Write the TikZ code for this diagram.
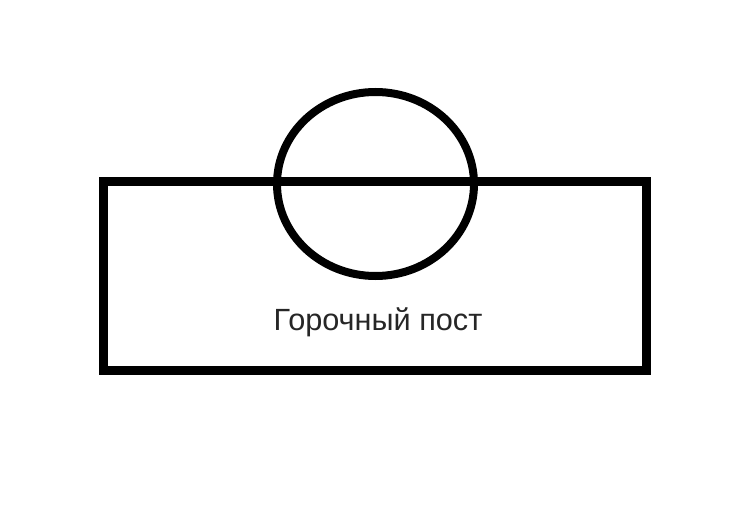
\documentclass[tikz,border=0pt]{standalone}
\usepackage{fontspec}
\setmainfont{Liberation Sans}
\begin{document}
\begin{tikzpicture}[x=0.75pt,y=-0.75pt,
  shape line/.style={draw=black,line width=6.75pt},
  label text/.style={font=\fontsize{23pt}{26pt}\selectfont,text=black!85,inner sep=0pt,anchor=base}]
\useasboundingbox (0,0) rectangle (755,524);
\draw[shape line] (103,181.5) rectangle (646,370.5);
\draw[line width=6pt] (375.5,184) ellipse [x radius=98.5, y radius=92];
\node[label text] (lbl) at (378,330) {Горочный пост};
\end{tikzpicture}
\end{document}
